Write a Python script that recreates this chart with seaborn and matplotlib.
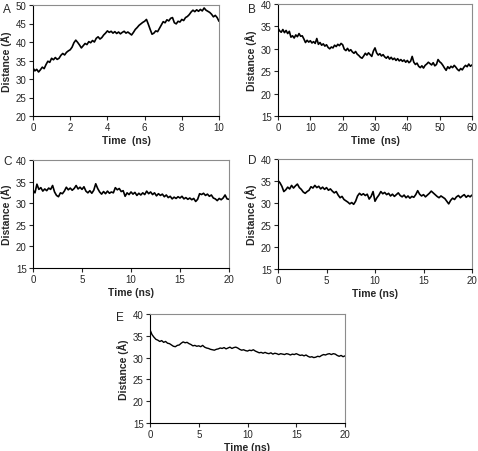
import numpy as np
import matplotlib
matplotlib.use("Agg")
import matplotlib.pyplot as plt
import seaborn as sns

# distance traces (Å)
a_dist = [33.0, 32.2, 32.6, 31.9, 32.5, 33.2, 32.8, 33.9, 34.8, 34.5,
          35.6, 35.2, 35.8, 35.3, 35.6, 36.4, 36.9, 36.5, 37.2, 37.6,
          37.9, 38.6, 39.8, 40.5, 39.9, 39.2, 38.4, 39.0, 39.6, 39.3,
          40.1, 39.8, 40.4, 40.0, 41.0, 41.4, 40.8, 41.2, 41.9, 42.4,
          43.0, 42.6, 42.9, 42.4, 42.8, 42.3, 42.7, 42.2, 42.6, 42.9,
          42.4, 42.7, 42.3, 41.9, 42.6, 43.4, 43.9, 44.5, 44.9, 45.3,
          45.6, 46.1, 44.8, 43.4, 42.1, 42.4, 43.0, 42.8, 43.7, 44.6,
          45.5, 45.2, 46.0, 45.7, 46.4, 46.6, 45.2, 44.9, 45.6, 45.4,
          46.1, 45.8, 46.6, 46.9, 47.4, 48.1, 48.6, 48.2, 48.7, 48.3,
          48.8, 48.4, 49.2, 48.6, 48.3, 48.0, 47.5, 46.8, 47.2, 46.6,
          45.6]

b_dist = [34.6, 34.0, 33.7, 34.3, 33.6, 34.1, 33.4, 33.9, 32.6, 32.9,
          32.4, 33.1, 32.7, 33.4, 32.8, 32.9, 32.2, 31.4, 31.9, 31.5,
          31.8, 31.3, 31.6, 31.2, 32.3, 31.0, 31.4, 30.8, 31.1, 30.6,
          30.9, 30.3, 30.0, 30.4, 30.2, 30.8, 30.5, 31.0, 30.7, 31.2,
          30.9, 29.9, 29.6, 30.1, 29.5, 29.8, 29.3, 29.0, 29.4, 28.8,
          28.5, 28.1, 27.9, 28.4, 29.0, 28.6, 29.1, 28.7, 28.3, 29.5,
          30.2, 29.1, 28.6, 28.9, 28.4, 28.7, 28.2, 27.9, 28.3, 27.7,
          28.1, 27.6, 27.9, 27.4, 27.8, 27.3, 27.6, 27.2, 27.5, 27.0,
          27.4, 26.9, 27.2, 28.3, 27.0, 26.5, 26.8, 26.1, 25.8, 26.2,
          25.7, 26.3, 26.6, 27.0, 26.7, 26.4, 26.9, 26.2, 26.5, 27.6,
          27.1, 26.8, 26.3, 25.7, 25.2, 26.0, 25.6, 26.1, 25.8, 26.3,
          25.9, 25.4, 25.1, 25.6, 25.3, 25.9, 26.3, 26.0, 26.6, 26.1,
          26.4]

c_dist = [33.0, 32.4, 34.4, 33.2, 33.6, 32.8, 33.3, 32.9, 33.5, 33.2,
          34.1, 32.6, 31.8, 31.5, 32.4, 32.2, 32.8, 33.7, 33.1, 33.5,
          33.0, 33.4, 34.1, 33.3, 33.7, 33.2, 33.8, 32.8, 32.4, 32.9,
          32.3, 33.0, 34.5, 33.4, 32.6, 32.1, 32.7, 32.2, 32.8, 32.3,
          32.6, 32.4, 33.6, 33.1, 33.4, 32.7, 32.9, 31.6, 32.4, 32.0,
          32.6, 32.1, 32.5, 31.8, 32.3, 31.9, 32.4, 32.0, 32.8, 32.2,
          32.6, 32.0, 32.4, 31.7, 32.2, 31.8, 32.1, 31.5, 31.9, 31.3,
          31.6, 31.0, 31.4, 31.1, 31.5, 31.2, 31.6, 31.0, 31.3, 30.9,
          31.2, 30.8, 31.1, 30.4, 30.9, 32.2, 32.0, 32.3, 31.8, 32.1,
          31.6, 31.9, 31.2, 31.0, 30.6, 31.1, 30.8, 31.2, 31.9, 31.0,
          30.9]

d_dist = [35.1, 34.6, 33.8, 32.6, 33.0, 33.6, 33.2, 34.0, 33.4, 33.9,
          34.3, 33.5, 33.1, 32.5, 32.2, 32.6, 32.9, 33.7, 33.4, 34.0,
          33.5, 33.8, 33.2, 33.6, 33.1, 33.5, 32.9, 33.2, 32.7, 32.3,
          32.6, 31.8, 31.2, 31.5, 30.8, 30.5, 30.2, 29.8, 30.1, 29.7,
          30.4, 31.6, 32.2, 31.8, 32.1, 31.7, 32.0, 30.9, 31.5, 32.6,
          30.4, 31.2, 31.8, 32.6, 32.1, 32.4, 31.9, 32.2, 31.6, 32.0,
          31.5, 31.9, 32.3, 31.7, 31.4, 31.8, 31.2, 31.6, 31.1, 31.5,
          31.3, 31.9, 32.8, 32.0, 31.6, 31.9, 31.4, 31.8, 32.2, 32.7,
          32.3, 31.9, 31.5, 31.2, 31.6, 31.3, 31.0, 30.4, 29.8, 30.6,
          31.1, 30.8, 31.4, 31.7, 31.2, 31.6, 31.9, 31.3, 31.7, 31.4,
          31.8]

e_dist = [36.4, 35.3, 34.7, 34.2, 34.0, 33.7, 33.9, 33.5, 33.7, 33.3,
          33.2, 32.9, 32.6, 32.5, 32.8, 32.9, 33.3, 33.6, 33.4, 33.5,
          33.2, 33.0, 32.7, 32.8, 32.6, 32.7, 32.5, 32.8, 32.4, 32.2,
          32.1, 31.9, 31.8, 31.7, 31.9, 32.0, 32.2, 32.1, 32.3, 32.0,
          32.2, 32.4, 32.1, 32.3, 32.4, 32.2, 31.9, 31.7, 31.8, 31.6,
          31.5, 31.7, 31.6, 31.8, 31.5, 31.3, 31.1, 31.2, 31.0, 31.2,
          31.0, 30.9, 31.1, 30.8, 31.0, 30.9, 30.7, 30.9, 30.8, 30.7,
          30.9, 30.8, 30.6, 30.8, 30.7, 30.9, 30.7, 30.5, 30.6, 30.4,
          30.6, 30.3, 30.1, 30.2, 30.0, 30.1, 30.3, 30.2, 30.5, 30.7,
          30.6, 30.8, 30.9, 30.7, 30.9, 30.8, 30.5, 30.3, 30.5, 30.2,
          30.4]

t_max = [10, 60, 20, 20, 20]
x_steps = [2, 10, 5, 5, 5]
y_limits = [(20, 50), (15, 40), (15, 40), (15, 40), (15, 40)]
x_labels = ["Time  (ns)", "Time  (ns)", "Time (ns)", "Time (ns)", "Time (ns)"]
letters = ["A", "B", "C", "D", "E"]
traces = [a_dist, b_dist, c_dist, d_dist, e_dist]

sns.set_style("white")
plt.rcParams['font.family'] = ['Liberation Sans', 'DejaVu Sans']

fig = plt.figure(figsize=(4.78, 4.52), dpi=100)

# axes boxes in pixels: left, top, right, bottom
boxes = [(33, 6, 219, 117), (278, 5, 472, 117), (33, 161, 229, 269),
         (278, 160, 472, 270), (150, 315, 345, 424)]
letter_pos = [(3, 4), (248, 4), (3, 156), (248, 155), (116, 312)]
line_w = [1.2, 1.2, 1.2, 1.2, 1.0]

W, H = 478, 452
for i, (l, t, r, b) in enumerate(boxes):
    ax = fig.add_axes([l / W, 1 - b / H, (r - l) / W, (b - t) / H])
    y = traces[i]
    x = np.linspace(0, t_max[i], len(y))
    sns.lineplot(x=x, y=y, ax=ax, color="black", linewidth=line_w[i])
    ax.set_xlim(0, t_max[i])
    ax.set_ylim(*y_limits[i])
    ax.set_xticks(np.arange(0, t_max[i] + 1, x_steps[i]))
    ax.set_yticks(np.arange(y_limits[i][0], y_limits[i][1] + 1, 5))
    ax.tick_params(labelsize=7, length=3, width=0.8, direction="out",
                   bottom=True, left=True, pad=1.5)
    for side in ["top", "right"]:
        ax.spines[side].set_color("#8c8c8c")
        ax.spines[side].set_linewidth(0.8)
    for side in ["left", "bottom"]:
        ax.spines[side].set_color("black")
        ax.spines[side].set_linewidth(0.8)
    ax.set_xlabel(x_labels[i], fontsize=7.5, fontweight="bold", labelpad=2)
    ax.set_ylabel("Distance (Å)", fontsize=7.5, fontweight="bold", labelpad=3)
    lx, ly = letter_pos[i]
    fig.text(lx / W, 1 - ly / H, letters[i], fontsize=8.5, va="top", ha="left")

fig.savefig("out.png", dpi=100)
